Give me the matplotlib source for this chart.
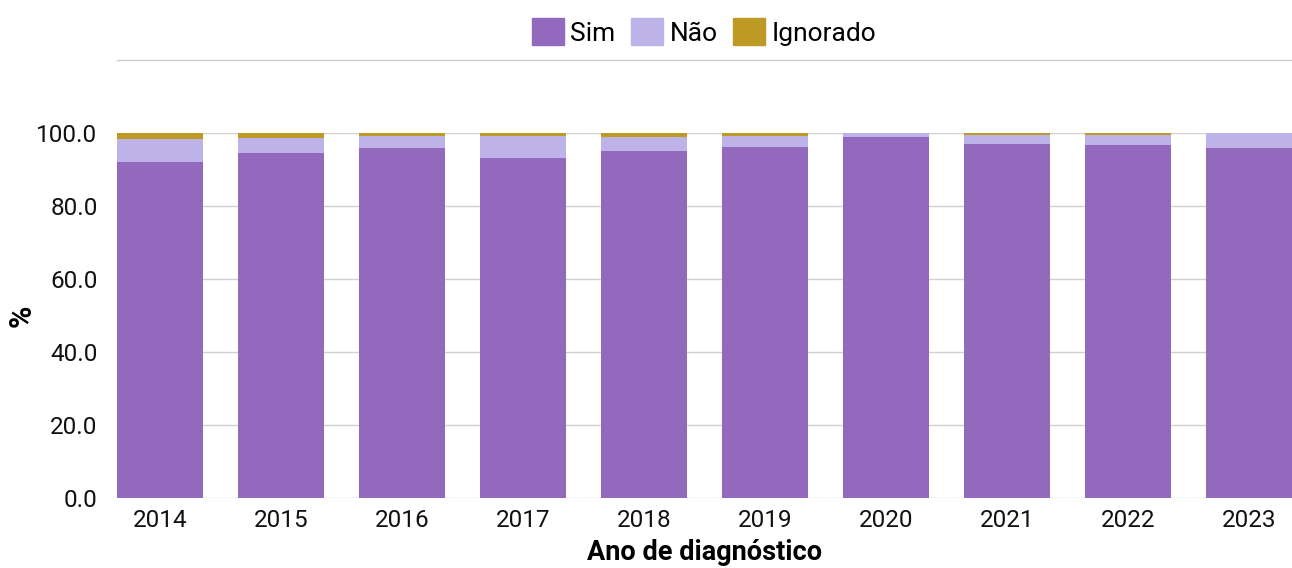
import numpy as np
import matplotlib.pyplot as plt
from matplotlib.lines import Line2D
from matplotlib.patches import Patch

anos = ['2014', '2015', '2016', '2017', '2018', '2019', '2020', '2021', '2022', '2023']
sim = [92.1, 94.6, 95.9, 93.2, 95.1, 96.2, 98.9, 97.0, 96.7, 95.9]
nao = [6.3, 4.1, 3.4, 6.1, 3.8, 3.1, 1.1, 2.5, 2.8, 4.1]
ign = [1.6, 1.3, 0.7, 0.7, 1.1, 0.7, 0.0, 0.5, 0.5, 0.0]

c_sim = '#9369be'
c_nao = '#bdb3e9'
c_ign = '#bd9a24'

plt.rcParams['font.family'] = ['Roboto', 'DejaVu Sans']

fig = plt.figure(figsize=(12.92, 5.68), dpi=100)
ax = fig.add_axes([117/1292, 70/568, 1 - 117/1292, (498-133)/568])

x = np.arange(len(anos))
w = 0.71
sim_a = np.array(sim)
nao_a = np.array(nao)
ax.bar(x, sim, w, color=c_sim, zorder=2)
ax.bar(x, nao, w, bottom=sim_a, color=c_nao, zorder=2)
ax.bar(x, ign, w, bottom=sim_a + nao_a, color=c_ign, zorder=2)

ax.set_xlim(-w/2, len(anos) - 1 + w/2)
ax.set_ylim(0, 100)
ax.set_yticks(np.arange(0, 101, 20))
ax.set_yticklabels([f'{v:.1f}' for v in np.arange(0, 101, 20)])
ax.set_xticks(x)
ax.set_xticklabels(anos)
ax.tick_params(axis='both', length=0, labelsize=17.5, colors='#111111')
ax.tick_params(axis='x', pad=8)
ax.tick_params(axis='y', pad=14)
ax.grid(axis='y', color='#d0d0d0', linewidth=1, zorder=0)
for s in ax.spines.values():
    s.set_visible(False)
for p in ax.patches:
    p.set_clip_on(False)

ax.set_ylabel('%', fontsize=22, fontweight='bold')
ax.yaxis.set_label_coords(-(117 - 22) / 1175, 0.5)
ax.set_xlabel('Ano de diagnóstico', fontsize=19.5, fontweight='bold')
ax.xaxis.set_label_coords(0.5, -(553 - 498) / 365)
ax.xaxis.label.set_va('center')
ax.yaxis.label.set_va('center')

# separator under the legend
fig.add_artist(Line2D([117/1292, 1], [1 - 60/568, 1 - 60/568], color='#cccccc', linewidth=1))

handles = [Patch(color=c_sim, label='Sim'), Patch(color=c_nao, label='Não'), Patch(color=c_ign, label='Ignorado')]
fig.legend(handles=handles, loc='center', bbox_to_anchor=(704/1292, 1 - 32/568), ncol=3,
           frameon=False, fontsize=19, handlelength=1.2, handleheight=1.2,
           handletextpad=0.25, columnspacing=0.6)

fig.savefig('out.png', dpi=100)
